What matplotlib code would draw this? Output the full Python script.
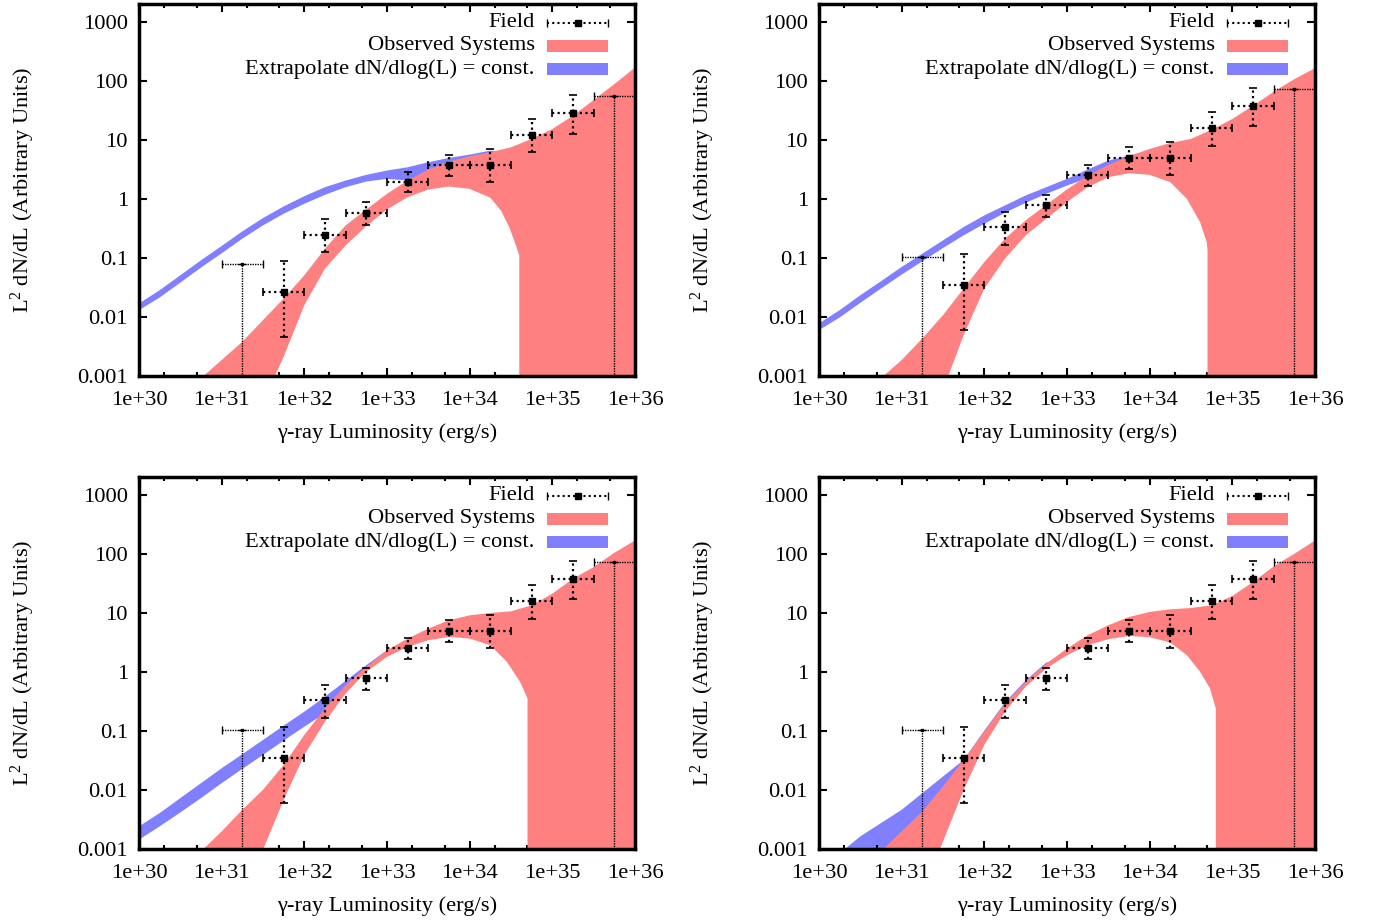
import numpy as np
import matplotlib
matplotlib.use("Agg")
import matplotlib.pyplot as plt
from matplotlib.ticker import FixedLocator, FixedFormatter, NullLocator
from matplotlib.patches import Rectangle

plt.rcParams['font.family'] = ['Liberation Serif', 'DejaVu Serif']
plt.rcParams['mathtext.fontset'] = 'custom'
plt.rcParams['mathtext.rm'] = 'Liberation Serif'
plt.rcParams['mathtext.it'] = 'Liberation Serif:italic'

RED = '#ff8080'
BLUE = '#8080ff'
FS = 16.2

# axis ticks
x_ticks_log = [30, 31, 32, 33, 34, 35, 36]
x_tick_labels = ['1e+30', '1e+31', '1e+32', '1e+33', '1e+34', '1e+35', '1e+36']
y_ticks = [0.001, 0.01, 0.1, 1, 10, 100, 1000]
y_tick_labels = ['0.001', '0.01', '0.1', '1', '10', '100', '1000']

# field points: bin centres in log10(L), half width of bin in dex
field_bins_log = [31.75, 32.25, 32.75, 33.25, 33.75, 34.25, 34.75, 35.25]
field_ul_bins_log = [31.25, 35.75]
bin_half_dex = 0.25

# top-left panel field points
tl_field = [0.0266, 0.247, 0.574, 1.92, 3.77, 3.77, 12.1, 28.4]
tl_field_hi = [0.088, 0.46, 0.88, 2.83, 5.55, 7.0, 22.5, 57.0]
tl_field_lo = [0.0046, 0.126, 0.356, 1.30, 2.42, 1.92, 6.2, 12.6]
tl_field_ul = [0.080, 55.8]

# other three panels share the same field points
field = [0.0345, 0.333, 0.774, 2.55, 5.0, 5.0, 15.9, 37.8]
field_hi = [0.118, 0.61, 1.17, 3.77, 7.5, 9.3, 29.9, 77.0]
field_lo = [0.006, 0.168, 0.49, 1.68, 3.2, 2.55, 8.0, 16.9]
field_ul = [0.104, 72.0]

# bands: (log10 L, log10 value) edges, -4 = zero (below axis)
tl_red_top = [(30.78, -3.0), (31.0, -2.73), (31.25, -2.42), (31.5, -2.054), (31.75, -1.688),
              (32.0, -1.294), (32.25, -0.843), (32.5, -0.449), (32.75, -0.179), (33.0, 0.086),
              (33.25, 0.311), (33.5, 0.497), (33.75, 0.632), (34.0, 0.722), (34.25, 0.79),
              (34.5, 0.874), (34.75, 1.015), (35.0, 1.184), (35.25, 1.409), (35.5, 1.674),
              (35.75, 1.944), (36.0, 2.225)]
tl_red_bot = [(31.645, -3.0), (31.75, -2.673), (32.0, -1.801), (32.25, -1.181), (32.5, -0.787),
              (32.75, -0.46), (33.0, -0.179), (33.25, 0.029), (33.5, 0.159), (33.75, 0.21),
              (34.0, 0.17), (34.25, 0.02), (34.38, -0.2), (34.48, -0.48), (34.55, -0.75),
              (34.6, -0.956), (34.6, -4.0), (36.0, -4.0)]
tl_blue_top = [(30.0, -1.772), (30.25, -1.547), (30.5, -1.294), (30.75, -1.04), (31.0, -0.798),
               (31.25, -0.551), (31.5, -0.325), (31.75, -0.128), (32.0, 0.046), (32.25, 0.198),
               (32.5, 0.311), (32.75, 0.407), (33.0, 0.48), (33.25, 0.536), (33.5, 0.621),
               (33.75, 0.694), (34.0, 0.75), (34.25, 0.818), (34.37, 0.79)]
tl_blue_bot = [(30.0, -1.885), (30.25, -1.671), (30.5, -1.418), (30.75, -1.164), (31.0, -0.922),
               (31.25, -0.674), (31.5, -0.449), (31.75, -0.252), (32.0, -0.083), (32.25, 0.069),
               (32.5, 0.198), (32.75, 0.294), (33.0, 0.339), (33.25, 0.311), (33.5, 0.45),
               (33.75, 0.6), (34.0, 0.7), (34.25, 0.76), (34.37, 0.79)]

tr_red_top = [(30.78, -3.0), (31.0, -2.73), (31.25, -2.364), (31.5, -1.97), (31.75, -1.519),
              (32.0, -1.069), (32.25, -0.674), (32.5, -0.365), (32.75, -0.1), (33.0, 0.159),
              (33.25, 0.395), (33.5, 0.576), (33.75, 0.722), (34.0, 0.846), (34.25, 0.947),
              (34.5, 1.015), (34.75, 1.172), (35.0, 1.353), (35.25, 1.578), (35.5, 1.814),
              (35.75, 2.028), (36.0, 2.214)]
tr_red_bot = [(31.564, -3.0), (31.75, -2.307), (32.0, -1.519), (32.25, -1.012), (32.5, -0.618),
              (32.75, -0.337), (33.0, -0.055), (33.25, 0.198), (33.5, 0.367), (33.75, 0.435),
              (34.0, 0.407), (34.25, 0.283), (34.45, 0.001), (34.61, -0.393), (34.69, -0.731),
              (34.7, -0.872), (34.7, -4.0), (36.0, -4.0)]
tr_blue_top = [(30.0, -2.11), (30.25, -1.885), (30.5, -1.632), (30.75, -1.395), (31.0, -1.153),
               (31.25, -0.928), (31.5, -0.703), (31.75, -0.477), (32.0, -0.28), (32.25, -0.111),
               (32.5, 0.058), (32.75, 0.198), (33.0, 0.339), (33.25, 0.497), (33.5, 0.649),
               (33.75, 0.733), (34.0, 0.818), (34.1, 0.8)]
tr_blue_bot = [(30.0, -2.223), (30.25, -2.009), (30.5, -1.761), (30.75, -1.519), (31.0, -1.283),
               (31.25, -1.057), (31.5, -0.832), (31.75, -0.618), (32.0, -0.421), (32.25, -0.235),
               (32.5, -0.066), (32.75, 0.086), (33.0, 0.226), (33.25, 0.35), (33.5, 0.5),
               (33.75, 0.65), (34.0, 0.76), (34.1, 0.8)]

bl_red_top = [(30.78, -3.0), (31.0, -2.702), (31.25, -2.336), (31.5, -1.998), (31.75, -1.575),
              (32.0, -1.069), (32.25, -0.618), (32.5, -0.224), (32.75, 0.086), (33.0, 0.367),
              (33.25, 0.564), (33.5, 0.733), (33.75, 0.874), (34.0, 0.958), (34.25, 0.998),
              (34.5, 1.026), (34.75, 1.127), (35.0, 1.324), (35.25, 1.578), (35.5, 1.775),
              (35.75, 2.017), (36.0, 2.225)]
bl_red_bot = [(31.504, -3.0), (31.75, -2.167), (32.0, -1.406), (32.25, -0.843), (32.5, -0.365),
              (32.75, 0.001), (33.0, 0.255), (33.25, 0.424), (33.5, 0.536), (33.75, 0.593),
              (34.0, 0.564), (34.25, 0.452), (34.45, 0.17), (34.61, -0.168), (34.7, -0.449),
              (34.7, -4.0), (36.0, -4.0)]
bl_blue_top = [(30.0, -2.617), (30.25, -2.392), (30.5, -2.138), (30.75, -1.885), (31.0, -1.632),
               (31.25, -1.395), (31.5, -1.153), (31.75, -0.911), (32.0, -0.674), (32.25, -0.421),
               (32.5, -0.151), (32.75, 0.114), (33.0, 0.367), (33.1, 0.4)]
bl_blue_bot = [(30.0, -2.842), (30.25, -2.617), (30.5, -2.381), (30.75, -2.138), (31.0, -1.885),
               (31.25, -1.643), (31.5, -1.406), (31.75, -1.164), (32.0, -0.928), (32.25, -0.7),
               (32.5, -0.3), (32.75, 0.05), (33.0, 0.3), (33.1, 0.4)]

br_red_top = [(30.78, -3.0), (31.0, -2.702), (31.25, -2.364), (31.5, -1.941), (31.75, -1.491),
              (32.0, -1.012), (32.25, -0.534), (32.5, -0.168), (32.75, 0.142), (33.0, 0.395),
              (33.25, 0.621), (33.5, 0.79), (33.75, 0.93), (34.0, 1.015), (34.25, 1.06),
              (34.5, 1.082), (34.75, 1.127), (35.0, 1.285), (35.25, 1.521), (35.5, 1.786),
              (35.75, 2.0), (36.0, 2.225)]
br_red_bot = [(31.464, -3.0), (31.75, -1.998), (32.0, -1.238), (32.25, -0.674), (32.5, -0.252),
              (32.75, 0.058), (33.0, 0.283), (33.25, 0.452), (33.5, 0.553), (33.75, 0.609),
              (34.0, 0.587), (34.25, 0.497), (34.45, 0.283), (34.61, 0.001), (34.73, -0.28),
              (34.8, -0.618), (34.8, -4.0), (36.0, -4.0)]
br_blue_top = [(30.314, -3.0), (30.5, -2.786), (30.75, -2.561), (31.0, -2.336), (31.25, -2.054),
               (31.5, -1.772), (31.75, -1.491), (32.0, -0.995), (32.25, -0.517), (32.5, -0.145),
               (32.75, 0.159), (32.85, 0.2)]
br_blue_bot = [(30.314, -3.2), (31.0, -3.2), (31.25, -2.8), (31.5, -2.3), (31.75, -1.7),
               (32.0, -1.1), (32.25, -0.6), (32.5, -0.2), (32.75, 0.1), (32.85, 0.2)]

legend_labels = ['Field', 'Observed Systems', 'Extrapolate dN/dlog(L) = const.']


def band(ax, top, bot, color, z):
    pts = list(top) + list(bot)[::-1]
    xs = np.array([p[0] for p in pts])
    ys = np.array([p[1] for p in pts])
    ax.fill(10.0**xs, 10.0**ys, color=color, lw=0, zorder=z)


def field_points(ax, vals, his, los, uls):
    x = 10.0**np.array(field_bins_log)
    xlo = x - 10.0**(np.array(field_bins_log) - bin_half_dex)
    xhi = 10.0**(np.array(field_bins_log) + bin_half_dex) - x
    v = np.array(vals)
    eb = ax.errorbar(x, v, xerr=[xlo, xhi], yerr=[v - np.array(los), np.array(his) - v],
                     fmt='s', color='k', ms=5, elinewidth=1.6, capsize=3, capthick=1.2, zorder=5)
    for c in eb[2]:
        c.set_linestyle((0, (1, 1.5)))
    xu = 10.0**np.array(field_ul_bins_log)
    xulo = xu - 10.0**(np.array(field_ul_bins_log) - bin_half_dex)
    xuhi = 10.0**(np.array(field_ul_bins_log) + bin_half_dex) - xu
    u = np.array(uls)
    eb = ax.errorbar(xu, u, xerr=[xulo, xuhi], yerr=[u - 1e-5, np.zeros(len(u))],
                     fmt='s', color='k', ms=2, elinewidth=1.0, capsize=3, capthick=1.0, zorder=5)
    for c in eb[2]:
        c.set_linestyle((0, (1, 0.8)))


def legend(ax):
    tx = 0.798
    x0, x1 = 0.8226, 0.9456
    rows = [0.949, 0.8875, 0.8255]
    for lab, y in zip(legend_labels, rows):
        ax.text(tx, y, lab, transform=ax.transAxes, ha='right', va='center', fontsize=FS, zorder=8)
    y = rows[0]
    ax.plot([x0, x1], [y, y], transform=ax.transAxes, color='k', lw=1.5, ls=(0, (1, 1.5)),
            clip_on=False, zorder=8)
    ax.plot([(x0 + x1) / 2], [y], transform=ax.transAxes, marker='s', ms=5, color='k',
            clip_on=False, zorder=8)
    ax.plot([x0, x1], [y, y], transform=ax.transAxes, marker='|', ms=6, ls='none', color='k',
            clip_on=False, zorder=8)
    h = 0.032
    ax.add_patch(Rectangle((x0, rows[1] - h / 2), x1 - x0, h, transform=ax.transAxes,
                           color=RED, lw=0, zorder=8))
    ax.add_patch(Rectangle((x0, rows[2] - h / 2), x1 - x0, h, transform=ax.transAxes,
                           color=BLUE, lw=0, zorder=8))


def setup(ax):
    ax.set_xscale('log')
    ax.set_yscale('log')
    ax.set_xlim(1e30, 1e36)
    ax.set_ylim(1e-3, 2e3)
    xt = [10.0**v for v in x_ticks_log]
    ax.xaxis.set_major_locator(FixedLocator(xt))
    ax.xaxis.set_major_formatter(FixedFormatter(x_tick_labels))
    minors = []
    for v in x_ticks_log[:-1]:
        minors += [2 * 10.0**v, 5 * 10.0**v]
    ax.xaxis.set_minor_locator(FixedLocator(minors))
    ax.yaxis.set_major_locator(FixedLocator(y_ticks))
    ax.yaxis.set_major_formatter(FixedFormatter(y_tick_labels))
    ax.yaxis.set_minor_locator(NullLocator())
    ax.tick_params(which='both', direction='in', top=True, right=True, width=1.5, labelsize=FS)
    ax.tick_params(which='major', length=6)
    ax.tick_params(which='minor', length=3)
    ax.tick_params(axis='x', pad=11)
    ax.tick_params(axis='y', pad=8)
    for s in ax.spines.values():
        s.set_linewidth(2.5)
        s.set_zorder(10)
    ax.set_xlabel('\u03b3-ray Luminosity (erg/s)', fontsize=FS)
    ax.set_ylabel(r'L$^{2}$ dN/dL (Arbitrary Units)', fontsize=FS)
    ax.xaxis.set_label_coords(0.5, -0.128)
    ax.yaxis.set_label_coords(-0.205, 0.5)


fig = plt.figure(figsize=(13.74, 9.23), dpi=100)
W, H = 1374.0, 923.0
boxes = [(139, 4), (819, 4), (139, 477), (819, 477)]
panels = [
    (tl_red_top, tl_red_bot, tl_blue_top, tl_blue_bot, tl_field, tl_field_hi, tl_field_lo, tl_field_ul),
    (tr_red_top, tr_red_bot, tr_blue_top, tr_blue_bot, field, field_hi, field_lo, field_ul),
    (bl_red_top, bl_red_bot, bl_blue_top, bl_blue_bot, field, field_hi, field_lo, field_ul),
    (br_red_top, br_red_bot, br_blue_top, br_blue_bot, field, field_hi, field_lo, field_ul),
]
for (px, py), p in zip(boxes, panels):
    ax = fig.add_axes([px / W, 1 - (py + 372) / H, 496 / W, 372 / H])
    setup(ax)
    band(ax, p[2], p[3], BLUE, 1)
    band(ax, p[0], p[1], RED, 2)
    field_points(ax, p[4], p[5], p[6], p[7])
    legend(ax)

fig.savefig('out.png', dpi=100)
